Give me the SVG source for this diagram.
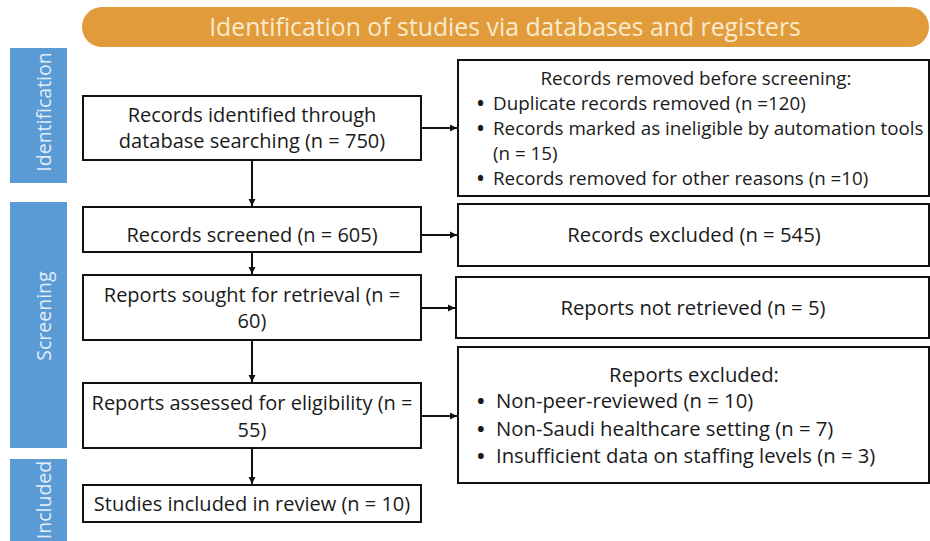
<svg xmlns="http://www.w3.org/2000/svg" width="930" height="541" viewBox="0 0 930 541">
<defs>
<marker id="ah" markerWidth="8" markerHeight="8" refX="7" refY="4" orient="auto" markerUnits="userSpaceOnUse">
<path d="M0,0.5 L7,4 L0,7.5 Z" fill="#111"/>
</marker>
<style>
.box{fill:#fff;stroke:#111;stroke-width:2}
.t{font-family:"Open Sans","Noto Sans","Liberation Sans",sans-serif;fill:#1a1a1a}
.l{font-size:20px;text-anchor:middle}
.r{font-size:18.8px}
.r2{font-size:20.3px}
.b{font-weight:bold}
.c{text-anchor:middle}
.side{fill:#5B9BD5}
.st{font-family:"Open Sans","Noto Sans","Liberation Sans",sans-serif;font-size:19.5px;fill:#E3EDF8;text-anchor:middle}
.conn{stroke:#111;stroke-width:2;fill:none;marker-end:url(#ah)}
</style>
</defs>
<rect width="930" height="541" fill="#fff"/>
<g id="banner">
<rect x="82" y="7" width="847" height="40" rx="20" ry="20" fill="#E29B3B"/>
<text x="505" y="36" font-family="'Open Sans','Noto Sans','Liberation Sans',sans-serif" font-size="24.8" fill="#F8EACB" text-anchor="middle">Identification of studies via databases and registers</text>
</g>
<g id="side-identification">
<rect class="side" x="10" y="48" width="57" height="135"/>
<text class="st" transform="translate(51,112) rotate(-90)">Identification</text>
</g>
<g id="side-screening">
<rect class="side" x="10" y="202" width="57" height="246"/>
<text class="st" transform="translate(51,316) rotate(-90)">Screening</text>
</g>
<g id="side-included">
<rect class="side" x="10" y="459" width="57" height="90"/>
<text class="st" transform="translate(51,500) rotate(-90)">Included</text>
</g>
<g id="n1">
<rect class="box" x="83" y="96" width="338" height="64"/>
<text class="t l" x="252" y="122">Records identified through</text>
<text class="t l" x="252" y="148">database searching (n = 750)</text>
</g>
<g id="n2">
<rect class="box" x="83" y="207" width="338" height="45"/>
<text class="t l" x="252" y="242">Records screened (n = 605)</text>
</g>
<g id="n3">
<rect class="box" x="83" y="275" width="338" height="65"/>
<text class="t l" x="252" y="302">Reports sought for retrieval (n =</text>
<text class="t l" x="252" y="328">60)</text>
</g>
<g id="n4">
<rect class="box" x="83" y="383" width="338" height="65"/>
<text class="t l" x="252" y="410">Reports assessed for eligibility (n =</text>
<text class="t l" x="252" y="437">55)</text>
</g>
<g id="n5">
<rect class="box" x="83" y="485" width="338" height="37"/>
<text class="t l" x="252" y="511">Studies included in review (n = 10)</text>
</g>
<g id="r1">
<rect class="box" x="458" y="60" width="471" height="136"/>
<text class="t r c" x="696" y="85">Records removed before screening:</text>
<text class="t r" y="110"><tspan class="b" x="477">•</tspan><tspan x="493">Duplicate records removed (n =120)</tspan></text>
<text class="t r" y="135"><tspan class="b" x="477">•</tspan><tspan x="493">Records marked as ineligible by automation tools</tspan></text>
<text class="t r" x="493" y="160">(n = 15)</text>
<text class="t r" y="185"><tspan class="b" x="477">•</tspan><tspan x="493">Records removed for other reasons (n =10)</tspan></text>
</g>
<g id="r2">
<rect class="box" x="458" y="204" width="471" height="62"/>
<text class="t r2 c" x="694" y="242">Records excluded (n = 545)</text>
</g>
<g id="r3">
<rect class="box" x="456" y="277" width="473" height="61"/>
<text class="t r2 c" x="693" y="315">Reports not retrieved (n = 5)</text>
</g>
<g id="r4">
<rect class="box" x="458" y="347" width="471" height="136"/>
<text class="t r2 c" x="694" y="382">Reports excluded:</text>
<text class="t r2" y="408"><tspan class="b" x="477">•</tspan><tspan x="496">Non-peer-reviewed (n = 10)</tspan></text>
<text class="t r2" y="436"><tspan class="b" x="477">•</tspan><tspan x="496">Non-Saudi healthcare setting (n = 7)</tspan></text>
<text class="t r2" y="463"><tspan class="b" x="477">•</tspan><tspan x="496">Insufficient data on staffing levels (n = 3)</tspan></text>
</g>
<g id="connectors">
<line class="conn" x1="421" y1="128" x2="457" y2="128"/>
<line class="conn" x1="421" y1="235" x2="457" y2="235"/>
<line class="conn" x1="421" y1="308" x2="455" y2="308"/>
<line class="conn" x1="421" y1="416" x2="457" y2="416"/>
<line class="conn" x1="252" y1="160" x2="252" y2="206"/>
<line class="conn" x1="252" y1="252" x2="252" y2="274"/>
<line class="conn" x1="252" y1="340" x2="252" y2="382"/>
<line class="conn" x1="252" y1="448" x2="252" y2="484"/>
</g>
</svg>
